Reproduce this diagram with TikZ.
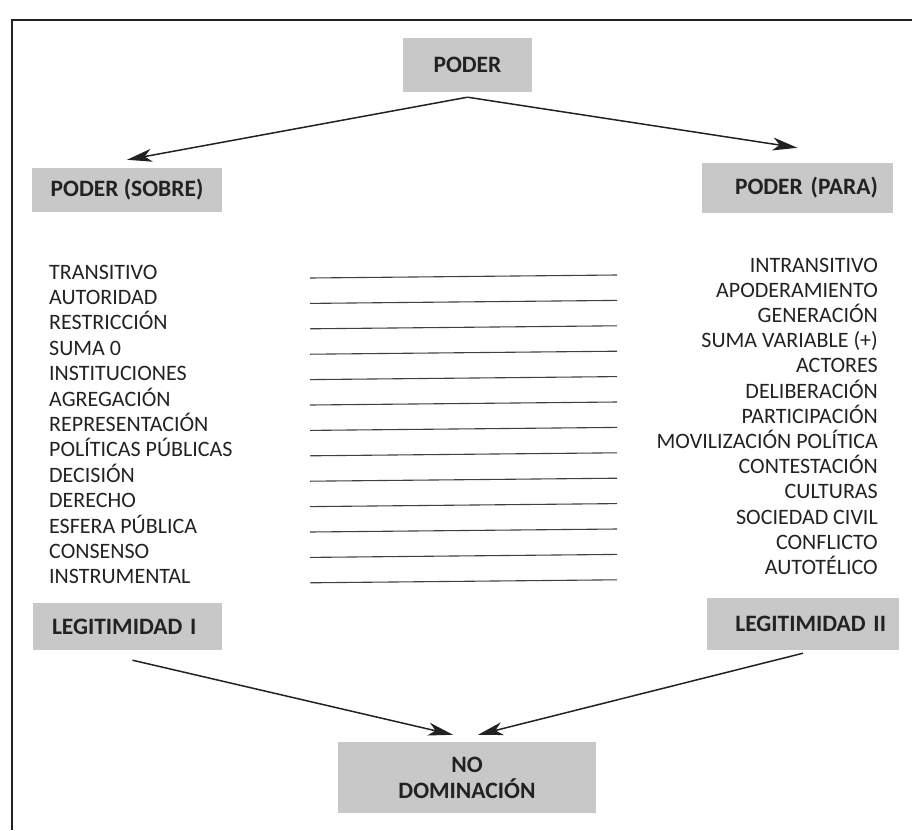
\documentclass[tikz,border=0pt]{standalone}
\usepackage{fontspec}
\setmainfont{Carlito}
\usetikzlibrary{arrows.meta,positioning}
\definecolor{gris}{RGB}{200,200,200}
\definecolor{tinta}{RGB}{34,34,34}

\begin{document}
\begin{tikzpicture}
    [x=1pt, y=-1pt,
    flecha/.style={line width=1.5pt, draw=tinta, -{Stealth[length=25pt,width=13pt,inset=7pt]}},
    caja/.style={fill=gris, inner ysep=0pt, font=\bfseries\fontsize{23.5}{26}\selectfont, text=tinta},
    termino/.style={inner sep=0pt, font=\fontsize{22}{26}\selectfont, text=tinta},
    renglon/.style={line width=1.1pt, draw=black!75}]
        \useasboundingbox (0,0) rectangle (912,830);
        %% marco
        \draw[line width=1.5pt, tinta] (12,830) -- (12,20) -- (912,20);

        %% cajas
        \node[caja, minimum width=129pt, minimum height=54pt] (poder) at (467.5,65) {PODER};
        \node[caja, minimum width=190pt, minimum height=44pt] (sobre) at (127,190) {PODER (SOBRE)};
        \node[caja, inner xsep=15pt, text width=161pt, align=right, minimum height=50pt] (para) at (797.5,188) {PODER (PARA)};
        \node[caja, inner xsep=19pt, text width=151pt, align=left, minimum height=47pt] (leg1) at (127.5,626.5) {LEGITIMIDAD I};
        \node[caja, inner xsep=13pt, text width=166pt, align=right, minimum height=52pt] (leg2) at (803,624) {LEGITIMIDAD II};
        \node[caja, minimum width=258pt, minimum height=71pt, align=center] (nodom) at (467,777.5) {NO\\DOMINACIÓN};

        %% listas
        \foreach \t [count=\i from 0] in {TRANSITIVO, AUTORIDAD, RESTRICCIÓN, SUMA 0, INSTITUCIONES,
            AGREGACIÓN, REPRESENTACIÓN, POLÍTICAS PÚBLICAS, DECISIÓN, DERECHO, ESFERA PÚBLICA,
            CONSENSO, INSTRUMENTAL}
            \node[termino, anchor=base west] (izq\i) at (49,279+25.4*\i) {\t};
        \foreach \t [count=\i from 0] in {INTRANSITIVO, APODERAMIENTO, GENERACIÓN, SUMA VARIABLE (+),
            ACTORES, DELIBERACIÓN, PARTICIPACIÓN, MOVILIZACIÓN POLÍTICA, CONTESTACIÓN, CULTURAS,
            SOCIEDAD CIVIL, CONFLICTO, AUTOTÉLICO}
            \node[termino, anchor=base east] (der\i) at (878,272+25.2*\i) {\t};

        %% renglones
        \foreach \i in {0,...,12} {
            \coordinate (a\i) at (310,278+25.4*\i);
            \coordinate (b\i) at (617,275+25.4*\i);
            \draw[renglon] (a\i) -- (b\i);
        }

        %% flechas
        \draw[flecha] ([yshift=-5pt]poder.south) -- ([yshift=8pt]sobre.north);
        \draw[flecha] ([yshift=-5pt]poder.south) -- ([yshift=15pt]para.north);
        \draw[flecha] ([xshift=5pt,yshift=-10pt]leg1.south) -- ([xshift=-14pt,yshift=7pt]nodom.north);
        \draw[flecha] ([yshift=-3pt]leg2.south) -- ([xshift=11pt,yshift=7pt]nodom.north);
    \end{tikzpicture}
\end{document}
